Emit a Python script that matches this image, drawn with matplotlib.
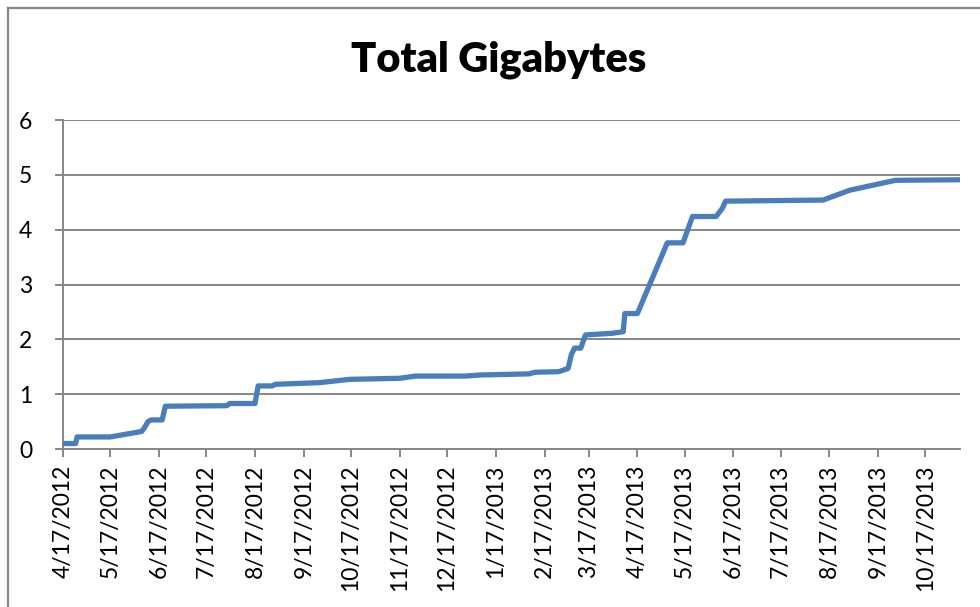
import numpy as np
import pandas as pd
import matplotlib
matplotlib.use("Agg")
import matplotlib.pyplot as plt
import matplotlib.dates as mdates
from matplotlib.lines import Line2D

plt.rcParams['font.family'] = ['Lato', 'DejaVu Sans']

# values
dates = ["2012-04-17", "2012-04-25", "2012-04-26", "2012-05-17", "2012-06-06",
         "2012-06-08", "2012-06-10", "2012-06-12", "2012-06-19", "2012-06-21",
         "2012-07-30", "2012-08-01", "2012-08-17", "2012-08-19", "2012-08-28",
         "2012-08-30", "2012-09-27", "2012-10-16", "2012-11-17", "2012-11-27",
         "2012-12-29", "2013-01-07", "2013-02-07", "2013-02-11", "2013-02-26",
         "2013-03-04", "2013-03-06", "2013-03-08", "2013-03-12", "2013-03-15",
         "2013-04-01", "2013-04-08", "2013-04-09", "2013-04-17", "2013-05-06",
         "2013-05-16", "2013-05-22", "2013-06-06", "2013-06-10", "2013-06-12",
         "2013-08-13", "2013-08-30", "2013-09-28", "2013-11-08"]
gigabytes = [0.10, 0.10, 0.22, 0.22, 0.32,
             0.40, 0.50, 0.53, 0.53, 0.78,
             0.79, 0.83, 0.83, 1.15, 1.15,
             1.18, 1.21, 1.27, 1.29, 1.33,
             1.33, 1.35, 1.37, 1.40, 1.41,
             1.47, 1.72, 1.84, 1.84, 2.08,
             2.11, 2.14, 2.47, 2.47, 3.76,
             3.76, 4.24, 4.24, 4.39, 4.52,
             4.54, 4.72, 4.90, 4.91]
tick_dates = ["2012-%02d-17" % m for m in range(4, 13)] + \
             ["2013-%02d-17" % m for m in range(1, 11)]
y_ticks = [0, 1, 2, 3, 4, 5, 6]

x = pd.to_datetime(dates)
ticks = pd.to_datetime(tick_dates)

fig = plt.figure(figsize=(9.8, 6.07), dpi=100)
ax = fig.add_axes([63 / 980, 1 - 449 / 607, (960 - 63) / 980, (449 - 120) / 607])

ax.plot(x, gigabytes, color="#4a7ebb", lw=3.8, solid_joinstyle="round",
        solid_capstyle="round", zorder=3)

ax.set_xlim(pd.Timestamp("2012-04-17"), pd.Timestamp("2013-11-08"))
ax.set_ylim(0, 6)
ax.set_yticks(y_ticks)
ax.set_xticks(ticks)
ax.set_xticklabels([f"{d.month}/{d.day}/{d.year}" for d in ticks], rotation=90)
ax.grid(axis="y", color="#868686", lw=1.4)
ax.set_axisbelow(True)

for s in ["top", "right"]:
    ax.spines[s].set_visible(False)
for s in ["left", "bottom"]:
    ax.spines[s].set_color("#868686")
    ax.spines[s].set_linewidth(1.4)
ax.tick_params(colors="#868686", labelcolor="black", labelsize=16.5, length=6, width=1.4)
ax.tick_params(axis="y", pad=16)
ax.tick_params(axis="x", pad=5)

fig.text(499 / 980, 1 - 60 / 607, "Total Gigabytes", ha="center", va="center",
         fontsize=30, fontweight="heavy")

# chart border (cropped on right and bottom)
fig.add_artist(Line2D([7.5 / 980, 1], [1 - 7.5 / 607] * 2, color="#868686", lw=1.6,
                      transform=fig.transFigure))
fig.add_artist(Line2D([7.5 / 980] * 2, [0, 1 - 7.5 / 607], color="#868686", lw=1.6,
                      transform=fig.transFigure))

fig.savefig("out.png", dpi=100)
